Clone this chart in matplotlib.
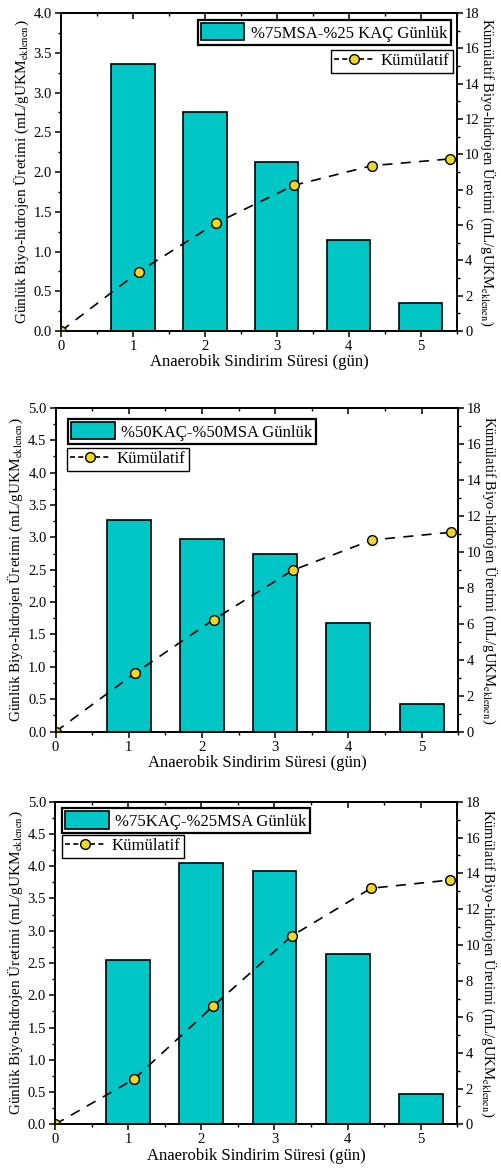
import numpy as np
import matplotlib
matplotlib.use('Agg')
import matplotlib.pyplot as plt
from matplotlib.ticker import MultipleLocator, FormatStrFormatter
from matplotlib.patches import Patch
from matplotlib.lines import Line2D

plt.rcParams['font.family'] = ['Liberation Serif', 'DejaVu Serif']
plt.rcParams['mathtext.fontset'] = 'stix'

# gunluk (bar) ve kumulatif (nokta) degerleri
days = [1, 2, 3, 4, 5]
cum_x = [0, 1.08, 2.16, 3.24, 4.32, 5.4]

daily_1 = [3.36, 2.75, 2.12, 1.14, 0.35]
cum_1 = [0, 3.35, 6.12, 8.25, 9.36, 9.74]
daily_2 = [3.26, 2.98, 2.74, 1.68, 0.43]
cum_2 = [0, 3.24, 6.23, 8.97, 10.65, 11.08]
daily_3 = [2.54, 4.05, 3.92, 2.64, 0.47]
cum_3 = [0, 2.52, 6.59, 10.52, 13.17, 13.63]

labels = ['%75MSA-%25 KAÇ Günlük', '%50KAÇ-%50MSA Günlük', '%75KAÇ-%25MSA Günlük']
xlabels = ['Anaerobik Sindirim Süresi (gün)'] * 3
left_max = [4.0, 5.0, 5.0]

ylab_l = 'Günlük Biyo-hidrojen Üretimi (mL/gUKM$_{\\mathrm{eklenen}}$)'
ylab_r = 'Kümülatif Biyo-hidrojen Üretimi (mL/gUKM$_{\\mathrm{eklenen}}$)'

bar_col = '#00C6C6'
mk_col = '#EFD725'

positions = [[0.1218, 0.7183, 0.790, 0.2706],
             [0.1110, 0.3773, 0.8036, 0.2757],
             [0.1098, 0.0431, 0.8030, 0.2746]]
# (loc, anchor bar legend, anchor cum legend)
leg_pos = [('upper right', (0.985, 0.978), (0.99, 0.884)),
           ('upper left', (0.031, 0.965), (0.028, 0.876)),
           ('upper left', (0.017, 0.980), (0.017, 0.897))]

fig = plt.figure(figsize=(5.01, 11.75), dpi=100)

data = [(daily_1, cum_1), (daily_2, cum_2), (daily_3, cum_3)]
for i in range(3):
    daily, cum = data[i]
    ax = fig.add_axes(positions[i])
    ax.bar(days, daily, width=0.6, color=bar_col, edgecolor='black', linewidth=1.2, zorder=2)
    ax.set_xlim(0, 5.5)
    ax.set_ylim(0, left_max[i])
    ax.xaxis.set_major_locator(MultipleLocator(1))
    ax.xaxis.set_minor_locator(MultipleLocator(0.5))
    ax.yaxis.set_major_locator(MultipleLocator(0.5))
    ax.yaxis.set_minor_locator(MultipleLocator(0.25))
    ax.yaxis.set_major_formatter(FormatStrFormatter('%.1f'))
    ax.tick_params(which='major', direction='out', length=4, width=1.1, labelsize=10.5, pad=2.5)
    ax.tick_params(which='minor', direction='out', length=2.5, width=1.0)
    ax.set_xlabel(xlabels[i], fontsize=12, labelpad=1)
    ax.set_ylabel(ylab_l, fontsize=11, labelpad=2)
    for s in ax.spines.values():
        s.set_linewidth(1.2)

    top = ax.secondary_xaxis('top')
    top.xaxis.set_major_locator(MultipleLocator(1))
    top.xaxis.set_minor_locator(MultipleLocator(0.5))
    top.tick_params(which='major', direction='in', length=4, width=1.1, labeltop=False)
    top.tick_params(which='minor', direction='in', length=2.5, width=1.0)
    top.spines['top'].set_linewidth(1.2)

    ax2 = ax.twinx()
    ax2.plot(cum_x, cum, linestyle=(0, (6, 5)), color='black', linewidth=1.2,
             marker='o', markersize=7, markerfacecolor=mk_col, markeredgecolor='black',
             markeredgewidth=1.0)
    ax2.set_ylim(0, 18)
    ax2.yaxis.set_major_locator(MultipleLocator(2))
    ax2.yaxis.set_minor_locator(MultipleLocator(1))
    ax2.tick_params(which='major', direction='out', length=4, width=1.1, labelsize=10.5, pad=2)
    ax2.tick_params(which='minor', direction='out', length=2.5, width=1.0)
    ax2.set_ylabel(ylab_r, fontsize=10.5, rotation=270, labelpad=13)
    for s in ax2.spines.values():
        s.set_linewidth(1.2)

    loc, a1, a2 = leg_pos[i]
    h1 = Patch(facecolor=bar_col, edgecolor='black', linewidth=1.2)
    h2 = Line2D([], [], linestyle=(0, (3, 2)), color='black', linewidth=1.2, marker='o',
                markersize=7, markerfacecolor=mk_col, markeredgecolor='black')
    lg1 = ax2.legend([h1], [labels[i]], loc=loc, bbox_to_anchor=a1, borderaxespad=0,
                     fontsize=12, fancybox=False, edgecolor='black', framealpha=1,
                     handlelength=2.6, handleheight=1.2, handletextpad=0.4, borderpad=0.2)
    lg1.get_frame().set_linewidth(1.6)
    ax2.add_artist(lg1)
    lg2 = ax2.legend([h2], ['Kümülatif'], loc=loc, bbox_to_anchor=a2, borderaxespad=0,
                     fontsize=12, fancybox=False, edgecolor='black', framealpha=1,
                     handlelength=2.4, handletextpad=0.4, borderpad=0.2)
    lg2.get_frame().set_linewidth(1.0)

fig.savefig('out.png', dpi=100)
